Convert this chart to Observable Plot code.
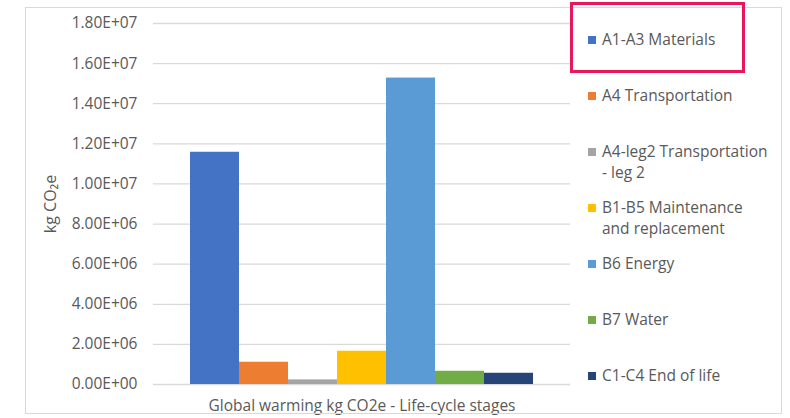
<!DOCTYPE html>
<html><head><meta charset="utf-8">
<script src="https://cdn.jsdelivr.net/npm/d3@7"></script>
<script src="https://cdn.jsdelivr.net/npm/@observablehq/plot@0.6"></script>
<style>
html,body{margin:0;padding:0;background:#fff;}
#wrap{position:relative;width:790px;height:418px;overflow:hidden;font-family:"Open Sans",sans-serif;}
#wrap svg{position:absolute;left:0;top:0;}
.frame{position:absolute;left:25px;top:7px;width:757px;height:407px;border:1px solid #d9d9d9;box-sizing:border-box;}
.hl{position:absolute;left:570px;top:2px;width:175px;height:71px;border:3px solid #e8175d;box-sizing:border-box;}
.leg{position:absolute;left:588px;font-size:15.5px;color:#595959;line-height:21px;}
.leg .sw{position:absolute;left:0;top:7px;width:8px;height:8px;}
.leg .tx{position:absolute;left:14px;top:0;width:190px;white-space:nowrap;}
</style></head>
<body><div id="wrap"><div class="frame"></div></div>
<script>
const stages = ["A1-A3 Materials","A4 Transportation","A4-leg2 Transportation - leg 2","B1-B5 Maintenance and replacement","B6 Energy","B7 Water","C1-C4 End of life"];
const legendLines = [["A1-A3 Materials"],["A4 Transportation"],["A4-leg2 Transportation","- leg 2"],["B1-B5 Maintenance","and replacement"],["B6 Energy"],["B7 Water"],["C1-C4 End of life"]];
const values = [11580000, 1110000, 230000, 1660000, 15280000, 660000, 560000];
const colors = ["#4472C4","#ED7D31","#A5A5A5","#FFC000","#5B9BD5","#70AD47","#264478"];
const yTicks = [0,2e6,4e6,6e6,8e6,1e7,1.2e7,1.4e7,1.6e7,1.8e7];
const xTitle = "Global warming kg CO2e - Life-cycle stages";
const yTitle = "kg CO\u2082e";

const data = stages.map((s,i)=>({stage:s, value:values[i]}));
const fmt = d => {
  if (d === 0) return "0.00E+00";
  const e = Math.floor(Math.log10(d) + 1e-9);
  const m = d / Math.pow(10, e);
  return m.toFixed(2) + "E+" + String(e).padStart(2, "0");
};

const chart = Plot.plot({
  width: 790, height: 418,
  marginLeft: 153, marginRight: 220, marginTop: 23, marginBottom: 34,
  style: {fontFamily: "'Open Sans', sans-serif", fontSize: "15.5px", color: "#595959", background: "transparent"},
  x: {domain: stages, paddingInner: 0, paddingOuter: 0.755, axis: null},
  y: {domain: [0, 1.8e7], ticks: yTicks},
  color: {domain: stages, range: colors},
  marks: [
    Plot.ruleY(yTicks, {stroke: "#d9d9d9", strokeWidth: 1.3}),
    Plot.barY(data, {x: "stage", y: "value", fill: "stage"}),
    Plot.axisY(yTicks, {tickSize: 0, tickPadding: 16, tickFormat: fmt, label: null, fill: "#595959", fontSize: 15.5}),
    Plot.text([yTitle], {frameAnchor: "left", dx: -103, rotate: -90, textAnchor: "middle", fill: "#595959", fontSize: 16}),
    Plot.text([xTitle], {frameAnchor: "bottom", dy: 26, fill: "#595959", fontSize: 15.5})
  ]
});
const wrap = document.getElementById("wrap");
wrap.insertBefore(chart, wrap.firstChild);
const hl = document.createElement("div"); hl.className = "hl"; wrap.appendChild(hl);
legendLines.forEach((lines, i) => {
  const d = document.createElement("div");
  d.className = "leg";
  d.style.top = (29 + 56 * i) + "px";
  const sw = document.createElement("div"); sw.className = "sw"; sw.style.background = colors[i];
  const tx = document.createElement("div"); tx.className = "tx"; tx.innerHTML = lines.join("<br>");
  d.appendChild(sw); d.appendChild(tx);
  wrap.appendChild(d);
});
</script></body></html>
